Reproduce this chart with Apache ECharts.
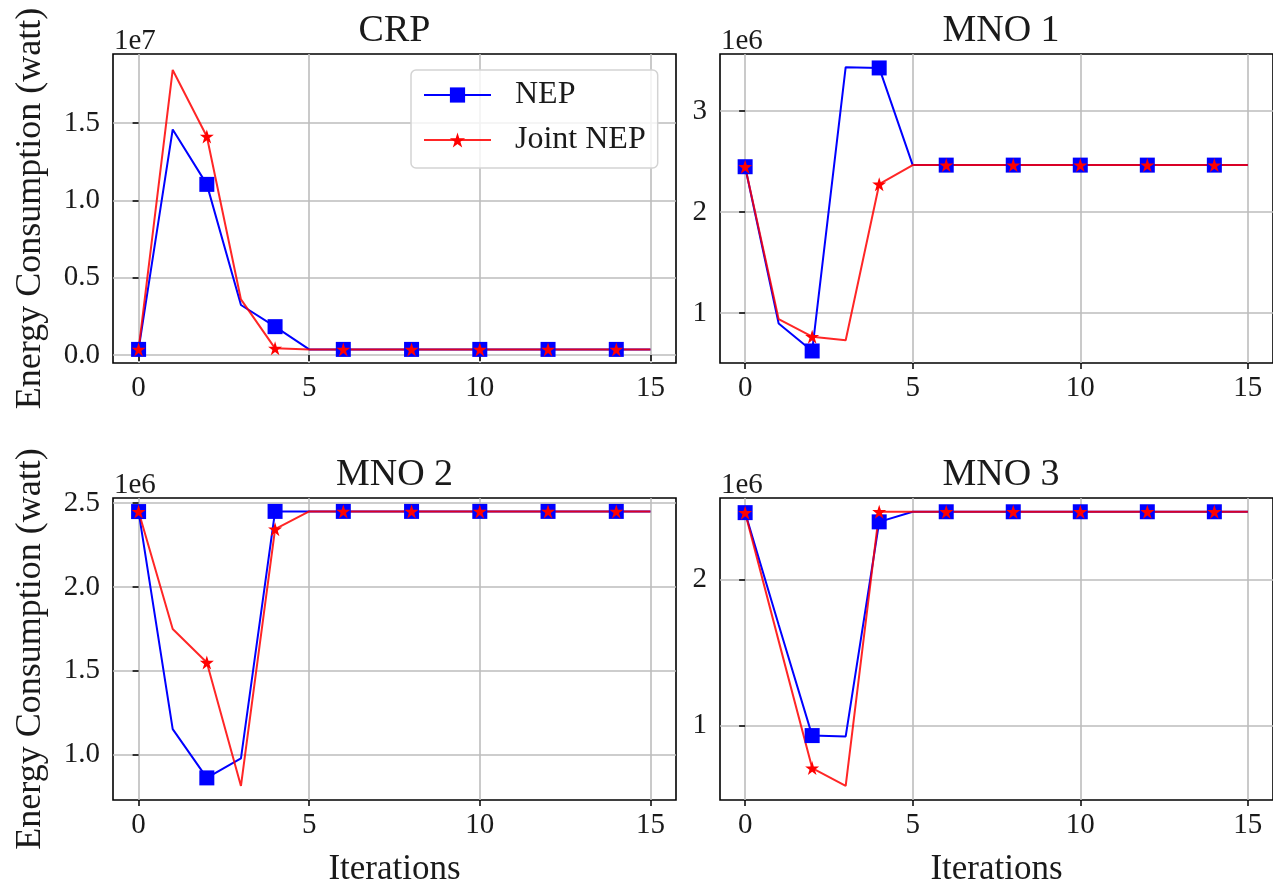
<!DOCTYPE html>
<html>
<head>
<meta charset="utf-8">
<script src="https://cdn.jsdelivr.net/npm/echarts@6/dist/echarts.min.js"></script>
<style>
  html, body { margin: 0; padding: 0; background: #fff; }
  #main { width: 1273px; height: 888px; }
</style>
</head>
<body>
<div id="main"></div>
<script>
// iterations on the x axis
var iterations = [0, 1, 2, 3, 4, 5, 6, 7, 8, 9, 10, 11, 12, 13, 14, 15];

// CRP, values in units of 1e7 watt
var crpNep   = [0.036, 1.458, 1.103, 0.323, 0.183, 0.036, 0.036, 0.036, 0.036, 0.036, 0.036, 0.036, 0.036, 0.036, 0.036, 0.036];
var crpJoint = [0.036, 1.843, 1.413, 0.359, 0.043, 0.036, 0.036, 0.036, 0.036, 0.036, 0.036, 0.036, 0.036, 0.036, 0.036, 0.036];

// MNO 1, units of 1e6 watt
var mno1Nep   = [2.448, 0.896, 0.624, 3.433, 3.426, 2.464, 2.464, 2.464, 2.464, 2.464, 2.464, 2.464, 2.464, 2.464, 2.464, 2.464];
var mno1Joint = [2.448, 0.939, 0.766, 0.730, 2.275, 2.464, 2.464, 2.464, 2.464, 2.464, 2.464, 2.464, 2.464, 2.464, 2.464, 2.464];

// MNO 2, units of 1e6 watt
var mno2Nep   = [2.450, 1.151, 0.860, 0.977, 2.451, 2.451, 2.451, 2.451, 2.451, 2.451, 2.451, 2.451, 2.451, 2.451, 2.451, 2.451];
var mno2Joint = [2.450, 1.749, 1.549, 0.812, 2.345, 2.451, 2.451, 2.451, 2.451, 2.451, 2.451, 2.451, 2.451, 2.451, 2.451, 2.451];

// MNO 3, units of 1e6 watt
var mno3Nep   = [2.456, 1.690, 0.933, 0.927, 2.393, 2.462, 2.462, 2.462, 2.462, 2.462, 2.462, 2.462, 2.462, 2.462, 2.462, 2.462];
var mno3Joint = [2.456, 1.580, 0.711, 0.589, 2.462, 2.462, 2.462, 2.462, 2.462, 2.462, 2.462, 2.462, 2.462, 2.462, 2.462, 2.462];

var panelTitles = ['CRP', 'MNO 1', 'MNO 2', 'MNO 3'];
var offsetTexts = ['1e7', '1e6', '1e6', '1e6'];
var xTicks = [0, 5, 10, 15];
var yTicks = [
    [0, 0.5, 1.0, 1.5],
    [1, 2, 3],
    [1.0, 1.5, 2.0, 2.5],
    [1, 2]
];
var yDecimals = [1, 0, 1, 0];
var seriesNames = ['NEP', 'Joint NEP'];

var FONT = '"Liberation Serif", "Times New Roman", serif';
var TXT = '#1a1a1a';
var STAR = 'path://M0,-100 L22.45,-30.9 L95.1,-30.9 L36.3,11.8 L58.8,80.9 L0,38.2 L-58.8,80.9 L-36.3,11.8 L-95.1,-30.9 L-22.45,-30.9 Z';

// pixel layout of the four panels
var grids = [
    { left: 113, top: 54, width: 563, height: 309 },
    { left: 720, top: 54, width: 562, height: 309 },
    { left: 113, top: 498, width: 563, height: 310 },
    { left: 720, top: 498, width: 562, height: 310 }
];
var yRanges = [[-0.052, 1.946], [0.505, 3.564], [0.728, 2.531], [0.493, 2.556]];

var panelData = [
    [crpNep, crpJoint],
    [mno1Nep, mno1Joint],
    [mno2Nep, mno2Joint],
    [mno3Nep, mno3Joint]
];

function toPoints(vals) {
    // markers on every second iteration, like markevery=2
    return iterations.map(function (x, i) {
        var item = { value: [x, vals[i]] };
        if (x % 2 !== 0) item.symbol = 'none';
        return item;
    });
}

var gridOpts = [], xAxes = [], yAxes = [], series = [], graphics = [];

grids.forEach(function (g, k) {
    gridOpts.push({
        left: g.left, top: g.top, width: g.width, height: g.height,
        show: true, borderColor: '#000', borderWidth: 1.6, backgroundColor: 'transparent'
    });
    var bottomRow = k >= 2, leftCol = (k % 2 === 0);
    xAxes.push({
        type: 'value', gridIndex: k, min: -0.75, max: 15.75,
        name: bottomRow ? 'Iterations' : '',
        nameLocation: 'middle', nameGap: 52,
        nameTextStyle: { fontFamily: FONT, fontSize: 35, color: TXT },
        axisLine: { show: false },
        axisTick: { show: true, length: 6, customValues: xTicks, lineStyle: { color: '#000', width: 1.5 } },
        axisLabel: {
            customValues: xTicks, margin: 11,
            fontFamily: FONT, fontSize: 29, color: TXT
        },
        splitLine: { show: true, lineStyle: { color: '#bdbdbd', width: 1.6 } }
    });
    var dec = yDecimals[k];
    yAxes.push({
        type: 'value', gridIndex: k, min: yRanges[k][0], max: yRanges[k][1],
        name: leftCol ? 'Energy Consumption (watt)' : '',
        nameLocation: 'middle', nameGap: 64, nameRotate: 90,
        nameTextStyle: { fontFamily: FONT, fontSize: 36, color: TXT },
        axisLine: { show: false },
        axisTick: { show: true, length: 6, customValues: yTicks[k], lineStyle: { color: '#000', width: 1.5 } },
        axisLabel: {
            customValues: yTicks[k], margin: 13,
            fontFamily: FONT, fontSize: 29, color: TXT,
            formatter: function (v) { return v.toFixed(dec); }
        },
        splitLine: { show: true, lineStyle: { color: '#bdbdbd', width: 1.6 } }
    });

    series.push({
        name: seriesNames[0], type: 'line', xAxisIndex: k, yAxisIndex: k,
        data: toPoints(panelData[k][0]),
        symbol: 'rect', symbolSize: 15,
        lineStyle: { color: '#0000ff', width: 2 },
        itemStyle: { color: '#0000ff' },
        animation: false
    });
    series.push({
        name: seriesNames[1], type: 'line', xAxisIndex: k, yAxisIndex: k,
        data: toPoints(panelData[k][1]),
        symbol: STAR, symbolSize: 14,
        lineStyle: { color: '#ff0000', width: 2, opacity: 0.85 },
        itemStyle: { color: '#ff0000' },
        animation: false
    });

    graphics.push({
        type: 'text', x: g.left + g.width / 2, y: g.top - 23,
        style: { text: panelTitles[k], font: '38px ' + FONT, fill: TXT, align: 'center', verticalAlign: 'middle' }
    });
    graphics.push({
        type: 'text', x: g.left + 1, y: g.top - 13,
        style: { text: offsetTexts[k], font: '29px ' + FONT, fill: TXT, align: 'left', verticalAlign: 'middle' }
    });
});

var option = {
    backgroundColor: '#fff',
    animation: false,
    grid: gridOpts,
    xAxis: xAxes,
    yAxis: yAxes,
    legend: {
        data: seriesNames,
        orient: 'vertical',
        left: 411, top: 70,
        itemWidth: 67, itemHeight: 19, itemGap: 13,
        padding: [9, 12, 12, 12],
        backgroundColor: 'rgba(255,255,255,0.8)',
        borderColor: '#d3d3d3', borderWidth: 1.5, borderRadius: 5,
        textStyle: { fontFamily: FONT, fontSize: 32, color: TXT, lineHeight: 32, padding: [0, 0, 0, 19] }
    },
    graphic: graphics,
    series: series
};

var chart = echarts.init(document.getElementById('main'));
chart.setOption(option);
</script>
</body>
</html>
